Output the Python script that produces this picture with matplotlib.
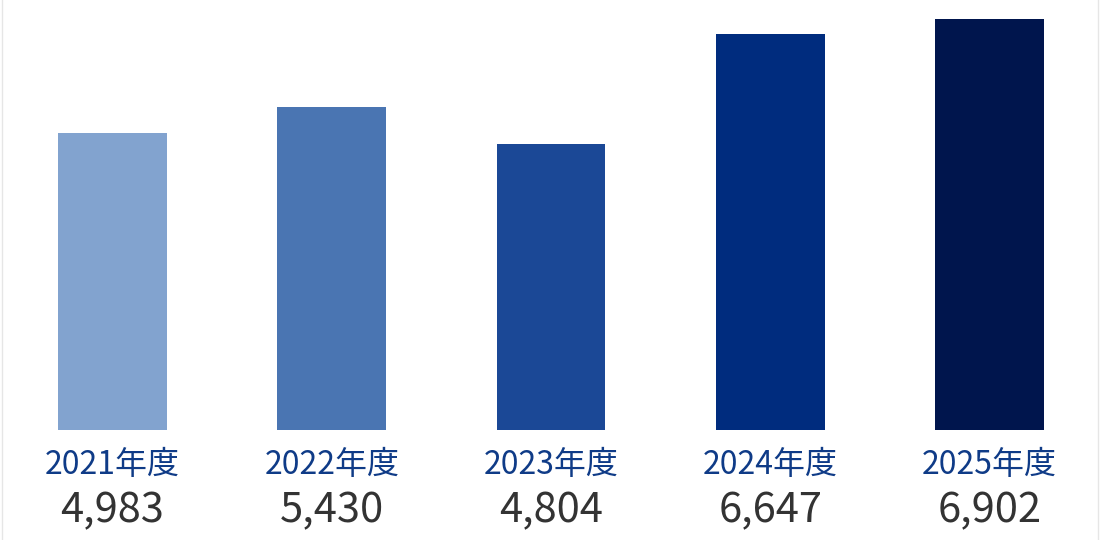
import matplotlib.pyplot as plt
from matplotlib.lines import Line2D

plt.rcParams['font.family'] = ['Noto Sans CJK JP', 'DejaVu Sans']

# データ
years = ['2021年度', '2022年度', '2023年度', '2024年度', '2025年度']
values = [4983, 5430, 4804, 6647, 6902]
bar_colors = ['#82A3CF', '#4A75B2', '#1B4896', '#002C7E', '#00154D']

W, H = 1100, 540
fig = plt.figure(figsize=(W / 100, H / 100), dpi=100)
fig.patch.set_facecolor('white')

# 軸の位置（ピクセルで合わせる）
ax_left, ax_right = 2.9, 1099.1
ax_bottom, ax_top = 430, 13.1
ax = fig.add_axes([ax_left / W, 1 - ax_bottom / H,
                   (ax_right - ax_left) / W, (ax_bottom - ax_top) / H])

x = list(range(len(values)))
ax.bar(x, values, width=0.497, color=bar_colors)
ax.set_xlim(-0.5, len(values) - 0.5)
ax.set_ylim(0, 7000)
ax.axis('off')

# 年度と数値のラベル
ax_h = ax_bottom - ax_top
for xi, yr, v in zip(x, years, values):
    ax.text(xi, -(474 - ax_bottom) / ax_h, yr, transform=ax.get_xaxis_transform(),
            ha='center', va='baseline', fontsize=23, color='#0F3B87', clip_on=False)
    ax.text(xi, -(522 - ax_bottom) / ax_h, f'{v:,}', transform=ax.get_xaxis_transform(),
            ha='center', va='baseline', fontsize=30, color='#333333', clip_on=False)

# 左右の薄い枠線
for px in (2, 1098):
    fig.add_artist(Line2D([px / W, px / W], [0, 1], color='#E6E6E6', lw=1))

fig.savefig('out.png', dpi=100)
